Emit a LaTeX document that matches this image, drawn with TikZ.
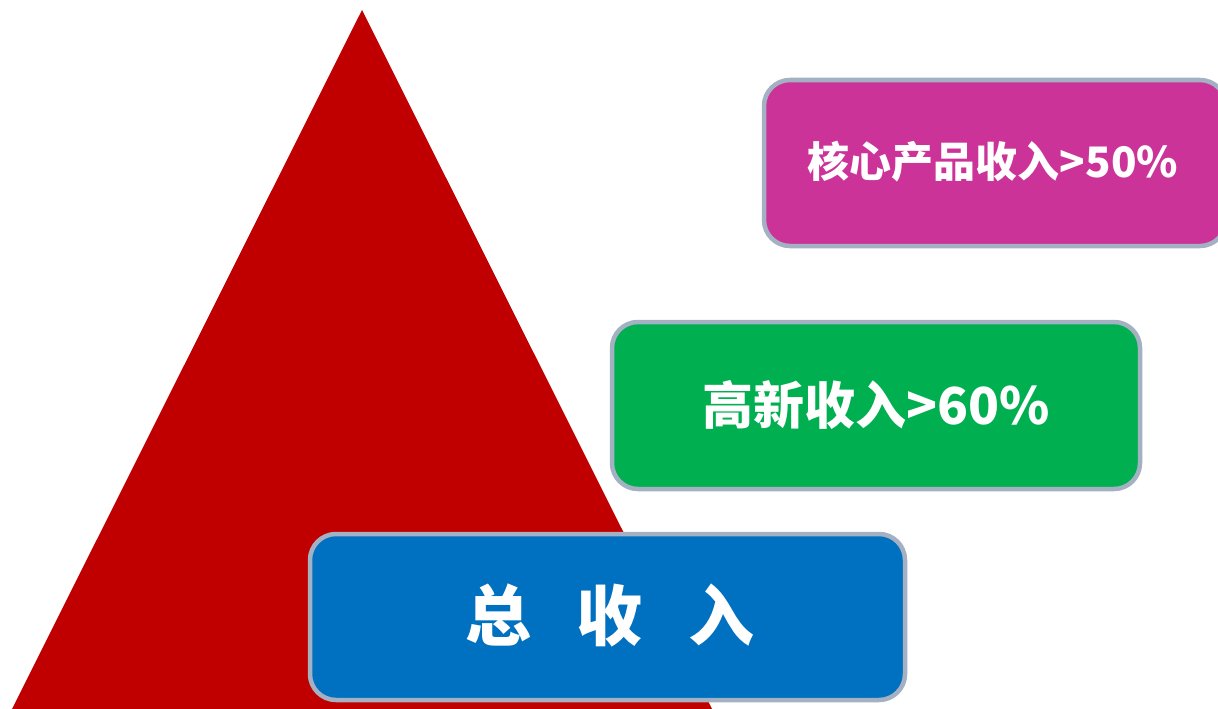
\documentclass[tikz,border=0pt]{standalone}
\usepackage{fontspec}
\newfontfamily\cjk{Noto Sans CJK SC}
\definecolor{tri}{HTML}{C00000}
\definecolor{mag}{HTML}{CC3399}
\definecolor{grn}{HTML}{00B050}
\definecolor{blu}{HTML}{0070C0}
\definecolor{edge}{HTML}{A3B1C2}
\tikzset{
  boxstyle/.style={draw=edge, line width=4.5pt, rounded corners=26pt},
  lbl/.style={text=white, font=\cjk\bfseries, inner sep=0pt, anchor=center}
}
\begin{document}
\begin{tikzpicture}[x=1pt,y=-1pt]
\useasboundingbox (0,0) rectangle (1218,709);
\fill[white] (0,0) rectangle (1218,709);
\coordinate (apex) at (362,10);
\coordinate (bl) at (12,709);
\coordinate (br) at (712,709);
\fill[tri] (apex) -- (bl) -- (br) -- cycle;
\begin{scope}
\clip (0,0) rectangle (1218,709);
\draw[boxstyle, fill=mag] (764,80) rectangle (1226,246);
\end{scope}
\draw[boxstyle, fill=grn] (612,322) rectangle (1140,489);
\draw[boxstyle, fill=blu] (310,534) rectangle (905,700);
\node[lbl, font=\cjk\bfseries\fontsize{42}{46}\selectfont] (t1) at (993,162) {核心产品收入>50\%};
\node[lbl, font=\cjk\bfseries\fontsize{51}{55}\selectfont] (t2) at (876,405) {高新收入>60\%};
\node[lbl, font=\cjk\bfseries\fontsize{66}{70}\selectfont] (t3) at (610,615) {总\hspace{46pt}收\hspace{46pt}入};
\end{tikzpicture}
\end{document}
